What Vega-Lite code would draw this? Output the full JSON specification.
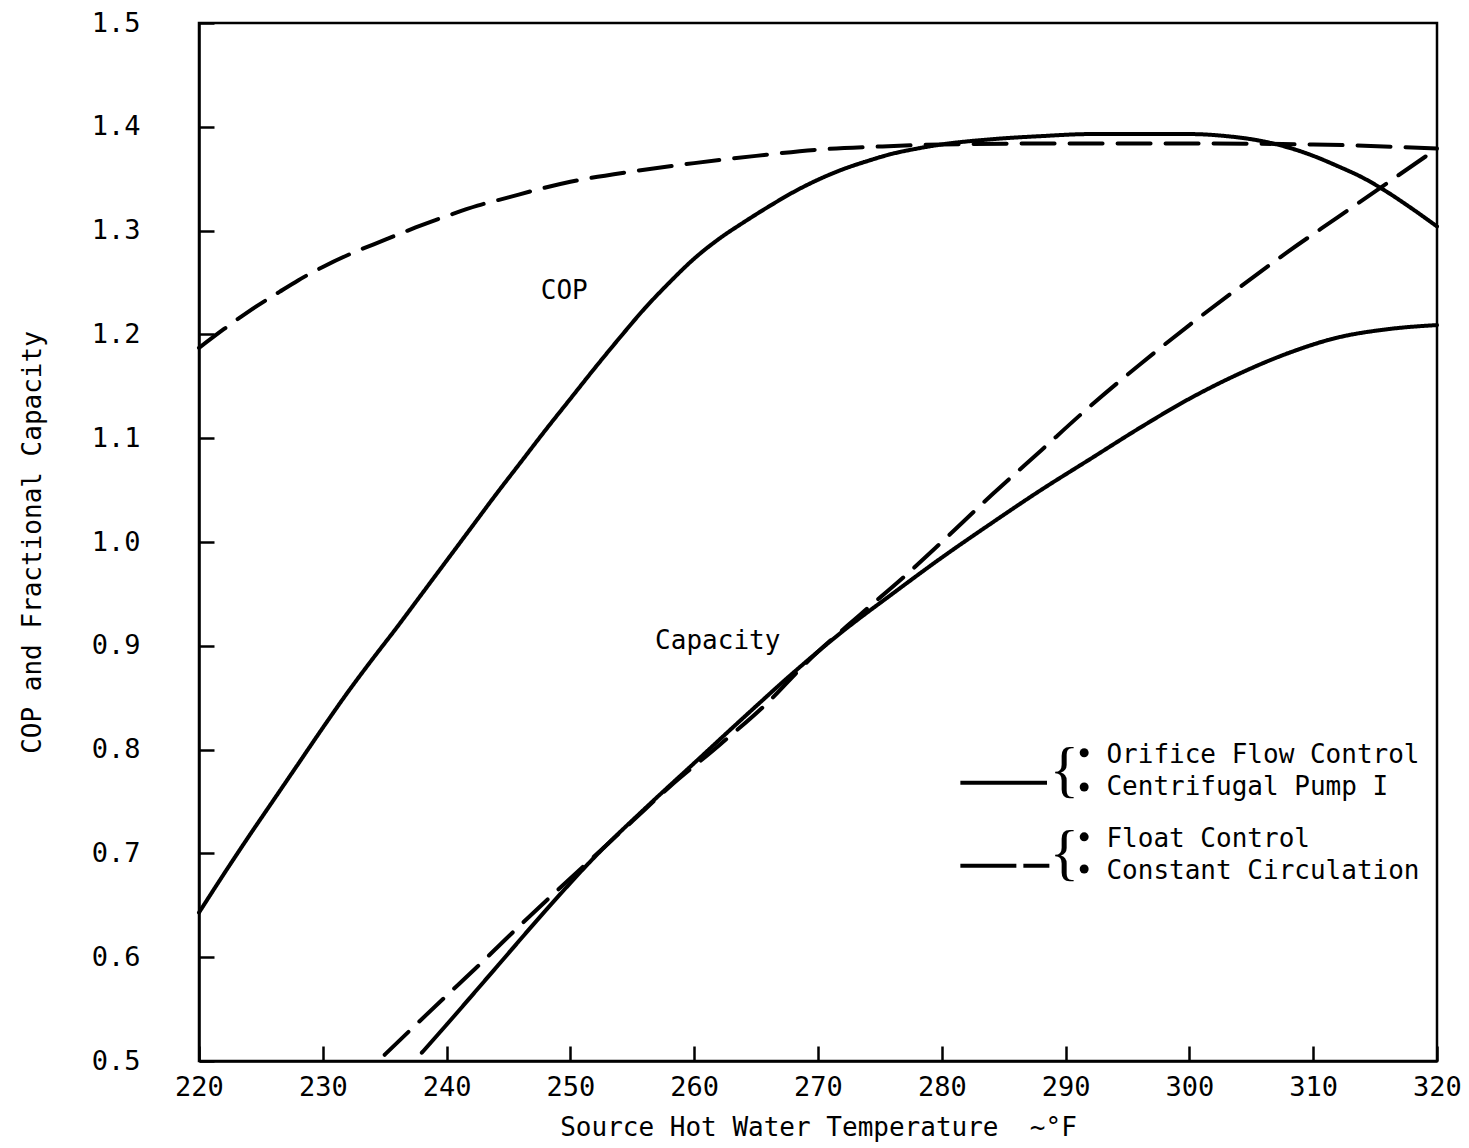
{
  "$schema": "https://vega.github.io/schema/vega-lite/v6.json",
  "autosize": "none",
  "width": 1238,
  "height": 1038,
  "padding": {"left": 199, "top": 23, "right": 32, "bottom": 87},
  "background": "white",
  "config": {
    "view": {"stroke": "black", "strokeWidth": 2.5},
    "font": "DejaVu Sans Mono",
    "axis": {
      "grid": false,
      "domainColor": "black",
      "domainWidth": 2.5,
      "tickColor": "black",
      "tickWidth": 2.5,
      "tickSize": -15,
      "labelColor": "black",
      "labelFont": "DejaVu Sans Mono",
      "labelFontSize": 27,
      "labelFlush": false,
      "titleColor": "black",
      "titleFont": "DejaVu Sans Mono",
      "titleFontSize": 26,
      "titleFontWeight": "normal"
    }
  },
  "datasets": {
    "curves": [
      {"series": "Float COP", "style": "dashed", "T": 220, "v": 1.187},
      {"series": "Float COP", "style": "dashed", "T": 222, "v": 1.205},
      {"series": "Float COP", "style": "dashed", "T": 224, "v": 1.222},
      {"series": "Float COP", "style": "dashed", "T": 226.5, "v": 1.241},
      {"series": "Float COP", "style": "dashed", "T": 228, "v": 1.252},
      {"series": "Float COP", "style": "dashed", "T": 230, "v": 1.265},
      {"series": "Float COP", "style": "dashed", "T": 232.5, "v": 1.279},
      {"series": "Float COP", "style": "dashed", "T": 235, "v": 1.291},
      {"series": "Float COP", "style": "dashed", "T": 237.5, "v": 1.303},
      {"series": "Float COP", "style": "dashed", "T": 240, "v": 1.314},
      {"series": "Float COP", "style": "dashed", "T": 242.5, "v": 1.324},
      {"series": "Float COP", "style": "dashed", "T": 245, "v": 1.332},
      {"series": "Float COP", "style": "dashed", "T": 247.5, "v": 1.34},
      {"series": "Float COP", "style": "dashed", "T": 250, "v": 1.347},
      {"series": "Float COP", "style": "dashed", "T": 255, "v": 1.357},
      {"series": "Float COP", "style": "dashed", "T": 260, "v": 1.365},
      {"series": "Float COP", "style": "dashed", "T": 265, "v": 1.372},
      {"series": "Float COP", "style": "dashed", "T": 270, "v": 1.378},
      {"series": "Float COP", "style": "dashed", "T": 275, "v": 1.381},
      {"series": "Float COP", "style": "dashed", "T": 280, "v": 1.383},
      {"series": "Float COP", "style": "dashed", "T": 290, "v": 1.384},
      {"series": "Float COP", "style": "dashed", "T": 300, "v": 1.384},
      {"series": "Float COP", "style": "dashed", "T": 310, "v": 1.383},
      {"series": "Float COP", "style": "dashed", "T": 320, "v": 1.379},

      {"series": "Orifice COP", "style": "solid", "T": 220, "v": 0.643},
      {"series": "Orifice COP", "style": "solid", "T": 222, "v": 0.68},
      {"series": "Orifice COP", "style": "solid", "T": 224, "v": 0.716},
      {"series": "Orifice COP", "style": "solid", "T": 226, "v": 0.751},
      {"series": "Orifice COP", "style": "solid", "T": 228, "v": 0.786},
      {"series": "Orifice COP", "style": "solid", "T": 230, "v": 0.821},
      {"series": "Orifice COP", "style": "solid", "T": 232, "v": 0.855},
      {"series": "Orifice COP", "style": "solid", "T": 234, "v": 0.887},
      {"series": "Orifice COP", "style": "solid", "T": 236, "v": 0.918},
      {"series": "Orifice COP", "style": "solid", "T": 238, "v": 0.95},
      {"series": "Orifice COP", "style": "solid", "T": 240, "v": 0.982},
      {"series": "Orifice COP", "style": "solid", "T": 242, "v": 1.014},
      {"series": "Orifice COP", "style": "solid", "T": 244, "v": 1.046},
      {"series": "Orifice COP", "style": "solid", "T": 246, "v": 1.077},
      {"series": "Orifice COP", "style": "solid", "T": 248, "v": 1.108},
      {"series": "Orifice COP", "style": "solid", "T": 250, "v": 1.138},
      {"series": "Orifice COP", "style": "solid", "T": 252, "v": 1.168},
      {"series": "Orifice COP", "style": "solid", "T": 254, "v": 1.197},
      {"series": "Orifice COP", "style": "solid", "T": 256, "v": 1.225},
      {"series": "Orifice COP", "style": "solid", "T": 258, "v": 1.25},
      {"series": "Orifice COP", "style": "solid", "T": 260, "v": 1.273},
      {"series": "Orifice COP", "style": "solid", "T": 262, "v": 1.292},
      {"series": "Orifice COP", "style": "solid", "T": 264, "v": 1.308},
      {"series": "Orifice COP", "style": "solid", "T": 266, "v": 1.323},
      {"series": "Orifice COP", "style": "solid", "T": 268, "v": 1.337},
      {"series": "Orifice COP", "style": "solid", "T": 270, "v": 1.349},
      {"series": "Orifice COP", "style": "solid", "T": 272, "v": 1.359},
      {"series": "Orifice COP", "style": "solid", "T": 274, "v": 1.367},
      {"series": "Orifice COP", "style": "solid", "T": 276, "v": 1.374},
      {"series": "Orifice COP", "style": "solid", "T": 278, "v": 1.379},
      {"series": "Orifice COP", "style": "solid", "T": 280, "v": 1.383},
      {"series": "Orifice COP", "style": "solid", "T": 284, "v": 1.388},
      {"series": "Orifice COP", "style": "solid", "T": 288, "v": 1.391},
      {"series": "Orifice COP", "style": "solid", "T": 292, "v": 1.393},
      {"series": "Orifice COP", "style": "solid", "T": 296, "v": 1.393},
      {"series": "Orifice COP", "style": "solid", "T": 300, "v": 1.393},
      {"series": "Orifice COP", "style": "solid", "T": 303, "v": 1.391},
      {"series": "Orifice COP", "style": "solid", "T": 305.5, "v": 1.387},
      {"series": "Orifice COP", "style": "solid", "T": 308, "v": 1.38},
      {"series": "Orifice COP", "style": "solid", "T": 310, "v": 1.372},
      {"series": "Orifice COP", "style": "solid", "T": 312, "v": 1.362},
      {"series": "Orifice COP", "style": "solid", "T": 314, "v": 1.351},
      {"series": "Orifice COP", "style": "solid", "T": 316, "v": 1.337},
      {"series": "Orifice COP", "style": "solid", "T": 318, "v": 1.321},
      {"series": "Orifice COP", "style": "solid", "T": 320, "v": 1.304},

      {"series": "Orifice Capacity", "style": "solid", "T": 238, "v": 0.508},
      {"series": "Orifice Capacity", "style": "solid", "T": 240, "v": 0.535},
      {"series": "Orifice Capacity", "style": "solid", "T": 244, "v": 0.59},
      {"series": "Orifice Capacity", "style": "solid", "T": 248, "v": 0.645},
      {"series": "Orifice Capacity", "style": "solid", "T": 252, "v": 0.697},
      {"series": "Orifice Capacity", "style": "solid", "T": 256, "v": 0.743},
      {"series": "Orifice Capacity", "style": "solid", "T": 260, "v": 0.787},
      {"series": "Orifice Capacity", "style": "solid", "T": 264, "v": 0.831},
      {"series": "Orifice Capacity", "style": "solid", "T": 268, "v": 0.874},
      {"series": "Orifice Capacity", "style": "solid", "T": 272, "v": 0.914},
      {"series": "Orifice Capacity", "style": "solid", "T": 276, "v": 0.95},
      {"series": "Orifice Capacity", "style": "solid", "T": 280, "v": 0.985},
      {"series": "Orifice Capacity", "style": "solid", "T": 284, "v": 1.018},
      {"series": "Orifice Capacity", "style": "solid", "T": 288, "v": 1.05},
      {"series": "Orifice Capacity", "style": "solid", "T": 292, "v": 1.08},
      {"series": "Orifice Capacity", "style": "solid", "T": 296, "v": 1.11},
      {"series": "Orifice Capacity", "style": "solid", "T": 300, "v": 1.138},
      {"series": "Orifice Capacity", "style": "solid", "T": 304, "v": 1.162},
      {"series": "Orifice Capacity", "style": "solid", "T": 308, "v": 1.182},
      {"series": "Orifice Capacity", "style": "solid", "T": 312, "v": 1.197},
      {"series": "Orifice Capacity", "style": "solid", "T": 316, "v": 1.205},
      {"series": "Orifice Capacity", "style": "solid", "T": 320, "v": 1.209},

      {"series": "Float Capacity", "style": "dashed", "T": 235, "v": 0.506},
      {"series": "Float Capacity", "style": "dashed", "T": 237, "v": 0.529},
      {"series": "Float Capacity", "style": "dashed", "T": 240, "v": 0.563},
      {"series": "Float Capacity", "style": "dashed", "T": 242.5, "v": 0.591},
      {"series": "Float Capacity", "style": "dashed", "T": 245, "v": 0.62},
      {"series": "Float Capacity", "style": "dashed", "T": 249, "v": 0.665},
      {"series": "Float Capacity", "style": "dashed", "T": 252, "v": 0.698},
      {"series": "Float Capacity", "style": "dashed", "T": 255, "v": 0.731},
      {"series": "Float Capacity", "style": "dashed", "T": 258, "v": 0.764},
      {"series": "Float Capacity", "style": "dashed", "T": 262, "v": 0.804},
      {"series": "Float Capacity", "style": "dashed", "T": 266, "v": 0.846},
      {"series": "Float Capacity", "style": "dashed", "T": 269, "v": 0.883},
      {"series": "Float Capacity", "style": "dashed", "T": 273.4, "v": 0.93},
      {"series": "Float Capacity", "style": "dashed", "T": 277, "v": 0.967},
      {"series": "Float Capacity", "style": "dashed", "T": 280, "v": 1.0},
      {"series": "Float Capacity", "style": "dashed", "T": 284, "v": 1.045},
      {"series": "Float Capacity", "style": "dashed", "T": 288, "v": 1.088},
      {"series": "Float Capacity", "style": "dashed", "T": 292, "v": 1.131},
      {"series": "Float Capacity", "style": "dashed", "T": 296, "v": 1.171},
      {"series": "Float Capacity", "style": "dashed", "T": 300, "v": 1.209},
      {"series": "Float Capacity", "style": "dashed", "T": 304, "v": 1.245},
      {"series": "Float Capacity", "style": "dashed", "T": 308, "v": 1.28},
      {"series": "Float Capacity", "style": "dashed", "T": 312, "v": 1.313},
      {"series": "Float Capacity", "style": "dashed", "T": 316, "v": 1.346},
      {"series": "Float Capacity", "style": "dashed", "T": 320, "v": 1.379}
    ],
    "legendLines": [
      {"style": "solid", "T1": 281.5, "T2": 288.5, "v": 0.768},
      {"style": "legenddash", "T1": 281.5, "T2": 288.7, "v": 0.688}
    ],
    "legendText": [
      {"text": "Orifice Flow Control", "T": 293.3, "v": 0.795},
      {"text": "Centrifugal Pump I", "T": 293.3, "v": 0.764},
      {"text": "Float Control", "T": 293.3, "v": 0.714},
      {"text": "Constant Circulation", "T": 293.3, "v": 0.683}
    ],
    "bullets": [
      {"T": 291.5, "v": 0.797},
      {"T": 291.5, "v": 0.764},
      {"T": 291.5, "v": 0.716},
      {"T": 291.5, "v": 0.685}
    ],
    "braces": [
      {"text": "{", "T": 289.9, "v": 0.779},
      {"text": "{", "T": 289.9, "v": 0.699}
    ],
    "annotations": [
      {"text": "COP", "T": 249.5, "v": 1.242},
      {"text": "Capacity", "T": 261.9, "v": 0.905}
    ]
  },
  "layer": [
    {
      "data": {"name": "curves"},
      "mark": {"type": "line", "interpolate": "monotone", "strokeWidth": 4, "color": "black", "strokeCap": "round"},
      "encoding": {
        "x": {"field": "T", "type": "quantitative", "scale": {"domain": [220, 320], "nice": false, "zero": false},
          "axis": {"values": [220, 230, 240, 250, 260, 270, 280, 290, 300, 310, 320], "title": "Source Hot Water Temperature \u00a0~°F", "labelPadding": 28, "titlePadding": 14}},
        "y": {"field": "v", "type": "quantitative", "scale": {"domain": [0.5, 1.5], "nice": false, "zero": false},
          "axis": {"values": [0.5, 0.6, 0.7, 0.8, 0.9, 1.0, 1.1, 1.2, 1.3, 1.4, 1.5], "format": ".1f", "title": "COP and Fractional Capacity", "labelPadding": 74, "titlePadding": 46}},
        "detail": {"field": "series"},
        "strokeDash": {"field": "style", "type": "nominal", "scale": {"domain": ["solid", "dashed", "legenddash"], "range": [[1, 0], [33, 15], [56, 7, 26, 200]]}, "legend": null}
      }
    },
    {
      "data": {"name": "legendLines"},
      "mark": {"type": "rule", "strokeWidth": 4, "color": "black"},
      "encoding": {
        "x": {"field": "T1", "type": "quantitative"},
        "x2": {"field": "T2"},
        "y": {"field": "v", "type": "quantitative"},
        "strokeDash": {"field": "style", "type": "nominal", "scale": {"domain": ["solid", "dashed", "legenddash"], "range": [[1, 0], [33, 15], [56, 7, 26, 200]]}, "legend": null}
      }
    },
    {
      "data": {"name": "legendText"},
      "mark": {"type": "text", "align": "left", "baseline": "middle", "fontSize": 26, "font": "DejaVu Sans Mono", "color": "black"},
      "encoding": {
        "x": {"field": "T", "type": "quantitative"},
        "y": {"field": "v", "type": "quantitative"},
        "text": {"field": "text"}
      }
    },
    {
      "data": {"name": "bullets"},
      "mark": {"type": "point", "shape": "circle", "filled": true, "size": 80, "color": "black", "opacity": 1},
      "encoding": {
        "x": {"field": "T", "type": "quantitative"},
        "y": {"field": "v", "type": "quantitative"}
      }
    },
    {
      "data": {"name": "braces"},
      "mark": {"type": "text", "align": "center", "baseline": "middle", "fontSize": 62, "font": "Liberation Serif", "fontWeight": "normal", "color": "black"},
      "encoding": {
        "x": {"field": "T", "type": "quantitative"},
        "y": {"field": "v", "type": "quantitative"},
        "text": {"field": "text"}
      }
    },
    {
      "data": {"name": "annotations"},
      "mark": {"type": "text", "align": "center", "baseline": "middle", "fontSize": 26, "font": "DejaVu Sans Mono", "color": "black"},
      "encoding": {
        "x": {"field": "T", "type": "quantitative"},
        "y": {"field": "v", "type": "quantitative"},
        "text": {"field": "text"}
      }
    }
  ]
}
